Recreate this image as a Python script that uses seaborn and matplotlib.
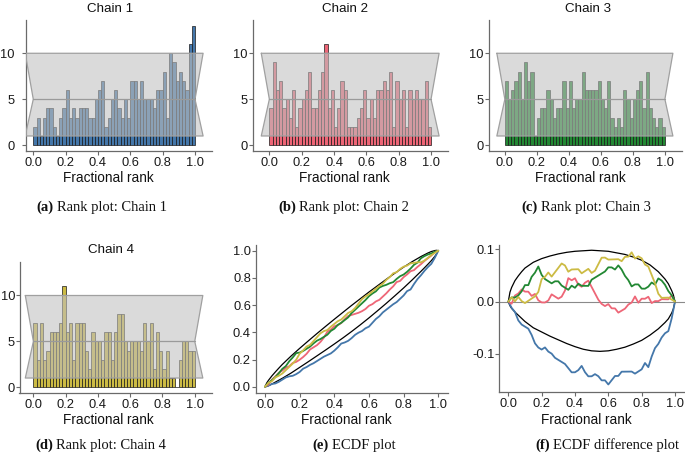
import numpy as np
import pandas as pd
import matplotlib
matplotlib.use("Agg")
import matplotlib.pyplot as plt
import seaborn as sns

# ---------------- data ----------------
chain_names = ["Chain 1", "Chain 2", "Chain 3", "Chain 4"]
chain_colors = ["#4477AA", "#EE6677", "#228833", "#CCBB44"]

# counts per rank bin (50 bins over [0, 1])
chain1_counts = [2, 3, 1, 3, 4, 4, 2, 1, 3, 4,
                 6, 3, 4, 3, 4, 4, 4, 3, 3, 5,
                 6, 7, 2, 3, 5, 6, 4, 3, 5, 3,
                 7, 7, 5, 7, 5, 5, 5, 4, 6, 6,
                 8, 3, 10, 9, 7, 8, 7, 6, 11, 13]
chain2_counts = [4, 9, 6, 7, 4, 5, 3, 6, 2, 4,
                 5, 6, 8, 4, 4, 6, 8, 11, 4, 6,
                 2, 4, 7, 6, 2, 2, 2, 3, 4, 6,
                 3, 5, 3, 6, 6, 7, 6, 8, 2, 7,
                 5, 6, 2, 6, 5, 6, 5, 5, 7, 2]
chain3_counts = [7, 5, 6, 7, 8, 5, 9, 7, 8, 1,
                 3, 4, 4, 6, 5, 3, 4, 4, 7, 4,
                 7, 4, 5, 5, 8, 6, 6, 6, 6, 7,
                 5, 4, 7, 3, 2, 3, 2, 6, 5, 3,
                 5, 6, 7, 4, 8, 4, 3, 2, 3, 2]
chain4_counts = [7, 3, 7, 3, 4, 6, 6, 6, 7, 11,
                 6, 7, 3, 7, 7, 7, 4, 2, 6, 5,
                 5, 3, 6, 6, 3, 6, 8, 8, 5, 4,
                 5, 5, 5, 4, 7, 5, 7, 2, 6, 4,
                 2, 4, 1, 1, 0, 3, 5, 5, 4, 4]
all_counts = [chain1_counts, chain2_counts, chain3_counts, chain4_counts]

# uniformity band of the rank histogram
band_low, band_mid, band_high = 1, 5, 10

# simultaneous ECDF-difference envelope
env_x = [0.0, 0.01, 0.02, 0.04, 0.06, 0.08, 0.10, 0.15, 0.20, 0.25, 0.30,
         0.35, 0.40, 0.45, 0.50, 0.55, 0.60, 0.65, 0.70, 0.75, 0.80, 0.85,
         0.90, 0.92, 0.94, 0.96, 0.98, 0.99, 1.0]
env_upper = [0.0, 0.018, 0.027, 0.040, 0.049, 0.057, 0.064, 0.075, 0.082, 0.087, 0.091,
             0.094, 0.096, 0.097, 0.098, 0.097, 0.096, 0.093, 0.090, 0.085, 0.079, 0.070,
             0.057, 0.050, 0.043, 0.034, 0.021, 0.013, 0.0]
env_lower = [0.0, -0.008, -0.013, -0.020, -0.026, -0.032, -0.038, -0.050, -0.058, -0.066, -0.073,
             -0.080, -0.086, -0.091, -0.094, -0.095, -0.094, -0.091, -0.087, -0.081, -0.074, -0.064,
             -0.052, -0.046, -0.040, -0.033, -0.022, -0.014, 0.0]

x_ticks = [0.0, 0.2, 0.4, 0.6, 0.8, 1.0]
rank_yticks = [0, 5, 10]
ecdf_yticks = [0.0, 0.2, 0.4, 0.6, 0.8, 1.0]
diff_yticks = [-0.1, 0.0, 0.1]
x_label = "Fractional rank"
captions = [("(a)", "Rank plot: Chain 1"), ("(b)", "Rank plot: Chain 2"),
            ("(c)", "Rank plot: Chain 3"), ("(d)", "Rank plot: Chain 4"),
            ("(e)", "ECDF plot"), ("(f)", "ECDF difference plot")]

# ---------------- style ----------------
sns.set_theme(style="ticks")
plt.rcParams["font.family"] = ["Liberation Sans", "DejaVu Sans"]
plt.rcParams["axes.unicode_minus"] = False

W, H = 685, 453
fig = plt.figure(figsize=(W / 100, H / 100), dpi=100)

def add_ax(l, t, r, b):
    return fig.add_axes([l / W, 1 - b / H, (r - l) / W, (b - t) / H])

def style_ax(ax, ypad=1.0):
    for s in ["top", "right"]:
        ax.spines[s].set_visible(False)
    for s in ["left", "bottom"]:
        ax.spines[s].set_color("#6a6a6a")
        ax.spines[s].set_linewidth(0.9)
    ax.tick_params(axis="both", colors="#6a6a6a", labelcolor="#1a1a1a",
                   labelsize=9.3, length=2.6, width=0.8)
    ax.tick_params(axis="x", pad=2)
    ax.tick_params(axis="y", pad=ypad)
    ax.set_xlabel("")
    ax.set_ylabel("")
    ax.grid(False)

edges = np.linspace(0, 1, 51)
centers = (edges[:-1] + edges[1:]) / 2

# (left, top, right, bottom, xmin, ytick pad)
rank_boxes = [(26, 20, 212, 150.7, -0.045, 5.5),
              (252.7, 20, 448, 150.7, -0.103, 1.0),
              (489, 20, 681.7, 150.7, -0.099, 1.0),
              (19.5, 262.3, 211.7, 392.7, -0.086, 0.6)]
title_pos = [(110, 9), (345, 9), (588, 9), (111, 250)]
xlabel_pos = [(108, 178), (344, 178), (580, 178), (108, 420), (346, 420), (586, 420)]

for i in range(4):
    l, t, r, b, xl, yp = rank_boxes[i]
    ax = add_ax(l, t, r, b)
    df = pd.DataFrame({"rank": centers, "count": np.asarray(all_counts[i], dtype=float)})
    sns.histplot(data=df, x="rank", weights="count", bins=50, binrange=(0, 1),
                 color=chain_colors[i], edgecolor="#1a1a1a", linewidth=0.5,
                 alpha=1.0, ax=ax)
    px = [-0.05, 1.05, 1.0, 1.05, -0.05, 0.0]
    py = [band_high, band_high, band_mid, band_low, band_low, band_mid]
    ax.fill(px, py, facecolor="#c0c0c0", alpha=0.58, edgecolor="none", zorder=3)
    ax.plot(px + [px[0]], py + [py[0]], color="#a0a0a0", lw=0.9, zorder=4)
    ax.plot([0.0, 1.0], [band_mid, band_mid], color="#9a9a9a", lw=0.9, zorder=4)
    ax.set_xlim(xl, 1.105)
    ax.set_ylim(-0.6, 13.62)
    ax.set_xticks(x_ticks)
    ax.set_xticklabels([f"{v:.1f}" for v in x_ticks])
    ax.set_yticks(rank_yticks)
    style_ax(ax, ypad=yp)
    fig.text(title_pos[i][0] / W, 1 - title_pos[i][1] / H, chain_names[i],
             ha="center", va="center", fontsize=9.6, color="#111111")

# ECDF data derived from the rank counts
ecdfs = []
for c in all_counts:
    c = np.asarray(c, dtype=float)
    ecdfs.append(np.concatenate([[0.0], np.cumsum(c) / c.sum()]))

ex = np.asarray(env_x)
eu = np.asarray(env_upper)
el = np.asarray(env_lower)

# (e) ECDF plot
ax = add_ax(256, 245, 448.3, 392.7)
sns.lineplot(x=ex, y=ex + eu, color="black", lw=0.9, ax=ax, sort=False)
sns.lineplot(x=ex, y=ex + el, color="black", lw=0.9, ax=ax, sort=False)
for i in range(4):
    sns.lineplot(x=edges, y=ecdfs[i], color=chain_colors[i], lw=1.3, ax=ax, sort=False)
ax.set_xlim(-0.052, 1.058)
ax.set_ylim(-0.044, 1.042)
ax.set_xticks(x_ticks)
ax.set_xticklabels([f"{v:.1f}" for v in x_ticks])
ax.set_yticks(ecdf_yticks)
ax.set_yticklabels([f"{v:.1f}" for v in ecdf_yticks])
style_ax(ax)

# (f) ECDF difference plot
ax = add_ax(499.3, 245, 685, 391.7)
ax.axhline(0, color="#8a8a8a", lw=0.8, zorder=1)
sns.lineplot(x=ex, y=eu, color="black", lw=0.9, ax=ax, sort=False)
sns.lineplot(x=ex, y=el, color="black", lw=0.9, ax=ax, sort=False)
for i in range(4):
    sns.lineplot(x=edges, y=ecdfs[i] - edges, color=chain_colors[i], lw=1.3, ax=ax, sort=False)
ax.set_xlim(-0.054, 1.06)
ax.set_ylim(-0.172, 0.108)
ax.set_xticks(x_ticks)
ax.set_xticklabels([f"{v:.1f}" for v in x_ticks])
ax.set_yticks(diff_yticks)
ax.set_yticklabels(["-0.1", "0.0", "0.1"])
style_ax(ax)

for (x, y) in xlabel_pos:
    fig.text(x / W, 1 - y / H, x_label, ha="center", va="center", fontsize=9.8, color="#111111")

# captions
cap_pos = [(36, 207), (278, 207), (521, 207), (35, 445), (312, 445), (535, 445)]
renderer = fig.canvas.get_renderer()
for (x, y), (tag, txt) in zip(cap_pos, captions):
    t1 = fig.text(x / W, 1 - y / H, tag, ha="left", va="center", fontsize=10.5,
                  family="Liberation Serif", weight="bold", color="#111111")
    bb = t1.get_window_extent(renderer)
    fig.text((bb.x1 + 3.5) / W, 1 - y / H, txt, ha="left", va="center", fontsize=10.5,
             family="Liberation Serif", color="#111111")

fig.savefig("out.png", dpi=100)
